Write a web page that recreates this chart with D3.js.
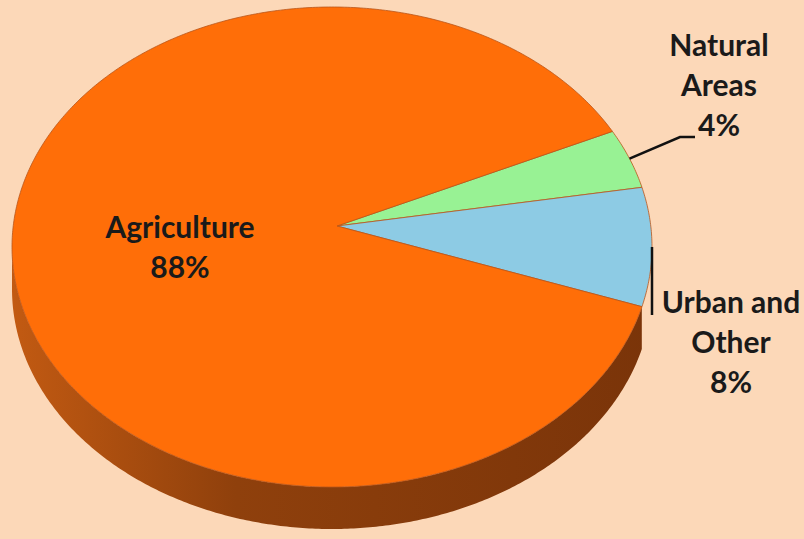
<!DOCTYPE html>
<html>
<head>
<meta charset="utf-8">
<script src="https://cdn.jsdelivr.net/npm/d3@7/dist/d3.min.js"></script>
<style>
  html, body { margin: 0; padding: 0; background: #FCD8B8; }
  svg { display: block; }
  text { font-family: Lato, "Open Sans", sans-serif; font-weight: bold; fill: #1a1a1a; }
</style>
</head>
<body>
<svg id="chart" width="804" height="539"></svg>
<script>
// ---- data ----
const categories = ["Natural Areas", "Urban and Other", "Agriculture"];
const values = [4, 8, 88];
const labelLines = [["Natural", "Areas", "4%"], ["Urban and", "Other", "8%"], ["Agriculture", "88%"]];
const topColors = ["#98F294", "#8DCBE4", "#FF6E08"];
const sideColors = ["#4E9A4A", "#4A7F95", "url(#sideGrad)"];

// ---- layout ----
const W = 804, H = 539;
const cx = 332, cy = 247, rx = 320, ry = 240, depth = 42;
const apex = {x: 337, y: 226};
const startDeg = 61.2;
const sideFromDeg = 104.5, sideToDeg = 270;

const svg = d3.select("#chart");
svg.append("rect").attr("width", W).attr("height", H).attr("fill", "#FCD8B8");

const defs = svg.append("defs");
const grad = defs.append("linearGradient").attr("id", "sideGrad")
  .attr("gradientUnits", "userSpaceOnUse")
  .attr("x1", cx - rx).attr("y1", 0).attr("x2", cx + rx).attr("y2", 0);
grad.append("stop").attr("offset", "0%").attr("stop-color", "#C25A12");
grad.append("stop").attr("offset", "35%").attr("stop-color", "#8F400C");
grad.append("stop").attr("offset", "100%").attr("stop-color", "#7A3409");

const pie = d3.pie().sort(null)
  .startAngle(startDeg * Math.PI / 180)
  .endAngle(startDeg * Math.PI / 180 + 2 * Math.PI);
const arcs = pie(values);

const rim = (a, dy = 0) => [cx + rx * Math.sin(a), cy - ry * Math.cos(a) + dy];
const sample = (a0, a1, dy = 0) => {
  const n = Math.max(2, Math.ceil(Math.abs(a1 - a0) / 0.01));
  return d3.range(n + 1).map(i => rim(a0 + (a1 - a0) * i / n, dy));
};
const lineGen = d3.line();

// ---- sides (visible front part) ----
const sideG = svg.append("g");
arcs.forEach((d, i) => {
  const lo = sideFromDeg * Math.PI / 180, hi = sideToDeg * Math.PI / 180;
  [0, -2 * Math.PI].forEach(shift => {
    const a0 = Math.max(d.startAngle + shift, lo);
    const a1 = Math.min(d.endAngle + shift, hi);
    if (a1 > a0) {
      const pts = sample(a0, a1).concat(sample(a1, a0, depth));
      sideG.append("path").attr("d", lineGen(pts) + "Z")
        .attr("fill", sideColors[i]);
    }
  });
});

// ---- top faces ----
const topG = svg.append("g");
arcs.forEach((d, i) => {
  const pts = [[apex.x, apex.y]].concat(sample(d.startAngle, d.endAngle));
  topG.append("path").attr("d", lineGen(pts) + "Z")
    .attr("fill", topColors[i])
    .attr("stroke", "#B9561A").attr("stroke-width", 0.8).attr("stroke-linejoin", "round");
});

// ---- labels ----
const fs = 30, lh = 40;
const labelG = svg.append("g");
labelLines[2].forEach((t, k) => {
  labelG.append("text").attr("x", 180).attr("y", 238 + k * lh)
    .attr("text-anchor", "middle").attr("font-size", fs).text(t);
});
labelLines[0].forEach((t, k) => {
  labelG.append("text").attr("x", 719).attr("y", 56 + k * lh)
    .attr("text-anchor", "middle").attr("font-size", fs).text(t);
});
labelLines[1].forEach((t, k) => {
  labelG.append("text").attr("x", 731).attr("y", 313 + k * lh)
    .attr("text-anchor", "middle").attr("font-size", fs).text(t);
});

// ---- leader lines ----
const midN = (arcs[0].startAngle + arcs[0].endAngle) / 2;
const pN = rim(midN);
svg.append("path").attr("d", lineGen([pN, [680, 137], [695, 137]]))
  .attr("fill", "none").attr("stroke", "#111").attr("stroke-width", 2.5);
const midU = (arcs[1].startAngle + arcs[1].endAngle) / 2;
const pU = rim(midU);
svg.append("path").attr("d", lineGen([pU, [pU[0], 315]]))
  .attr("fill", "none").attr("stroke", "#111").attr("stroke-width", 2.5);
</script>
</body>
</html>
